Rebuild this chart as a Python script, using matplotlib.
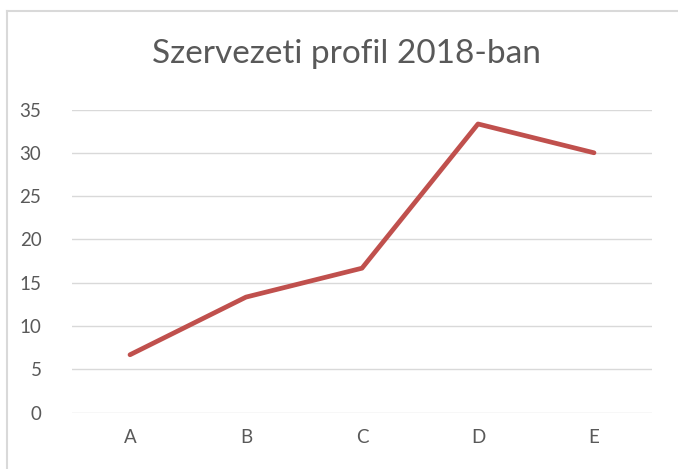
import matplotlib
matplotlib.use("Agg")
import matplotlib.pyplot as plt
from matplotlib.lines import Line2D

categories = ["A", "B", "C", "D", "E"]
values = [6.67, 13.33, 16.67, 33.33, 30.0]
yticks = [0, 5, 10, 15, 20, 25, 30, 35]
title = "Szervezeti profil 2018-ban"

W, H = 678, 469
fig = plt.figure(figsize=(W / 100, H / 100), dpi=100)
plt.rcParams['font.family'] = ['Lato', 'DejaVu Sans']

# chart border (cut off at right/bottom)
bx, by = 6.5 / W, 1 - 11 / H
fig.lines.append(Line2D([bx, bx], [0, by], transform=fig.transFigure, color="#D9D9D9", linewidth=1.5))
fig.lines.append(Line2D([bx, 1], [by, by], transform=fig.transFigure, color="#D9D9D9", linewidth=1.5))

ax = fig.add_axes([72 / W, 1 - 412.5 / H, (652 - 72) / W, (412.5 - 109.5) / H])
x = list(range(len(categories)))
ax.plot(x, values, color="#C0504D", linewidth=3.4, solid_capstyle="round", solid_joinstyle="round", zorder=3)
ax.set_xlim(-0.5, len(categories) - 0.5)
ax.set_ylim(0, 35)
ax.set_yticks(yticks)
ax.set_xticks(x)
ax.set_xticklabels(categories)
ax.grid(axis="y", color="#D9D9D9", linewidth=1.0)
ax.set_axisbelow(True)
for s in ax.spines.values():
    s.set_visible(False)
ax.tick_params(axis="both", length=0, labelsize=13.5, labelcolor="#595959")
ax.tick_params(axis="y", pad=22)
ax.tick_params(axis="x", pad=12)

fig.text(346 / W, 1 - 54 / H, title, ha="center", va="center", fontsize=24, color="#595959")

fig.savefig("out.png", dpi=100)
